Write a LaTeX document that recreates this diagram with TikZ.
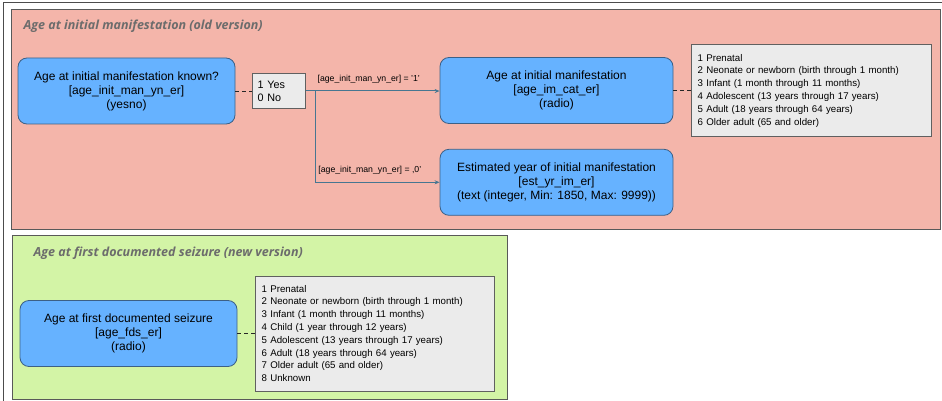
\documentclass[tikz,border=0pt]{standalone}
\usepackage{fontspec}
\setmainfont{Liberation Sans}
\newfontfamily\headfont{Open Sans}
\usepackage{tikz}
\usetikzlibrary{positioning,arrows.meta}
\usepackage{xcolor}
\definecolor{OldRed}{RGB}{244,181,170}
\definecolor{NewGreen}{RGB}{211,244,166}
\definecolor{FieldBlue}{RGB}{102,178,255}
\definecolor{FieldEdge}{RGB}{60,96,134}
\definecolor{ChoiceGray}{RGB}{235,235,235}
\definecolor{LinkTeal}{RGB}{70,118,145}
\definecolor{TitleGray}{RGB}{108,108,108}

\begin{document}
\begin{tikzpicture}[x=1pt, y=-1pt,
    field/.style={rectangle, draw=FieldEdge, fill=FieldBlue, rounded corners=9pt,
                  line width=0.8pt, minimum width=217pt, minimum height=66pt,
                  align=center, font=\fontsize{12}{14}\selectfont},
    choices/.style={rectangle, draw=gray!75!black, fill=ChoiceGray, line width=0.6pt,
                    text width=228pt, inner xsep=6pt, minimum height=92pt,
                    align=left, font=\fontsize{9.7}{12.8}\selectfont},
    group/.style={draw=gray!70!black, line width=0.8pt},
    headline/.style={anchor=west, text=TitleGray, font=\headfont\bfseries\itshape\fontsize{12.5}{14}\selectfont},
    cond/.style={font=\fontsize{8.7}{9}\selectfont, inner sep=1pt},
    link/.style={draw=LinkTeal, line width=1pt, -{Stealth[length=5pt,width=4pt]}},
    choiceline/.style={draw=gray!30!black, line width=0.9pt, dash pattern=on 4pt off 3pt},
]
    \useasboundingbox (0,0) rectangle (942,401);
    \draw[gray!60!black, line width=1pt] (3,401) -- (3,3) -- (942,3);

    % old version
    \draw[group, fill=OldRed] (11,9) rectangle (940,229);
    \node[headline] (oldtitle) at (20,26) {Age at initial manifestation (old version)};
    \node[field] (yn) at (126.5,91) {Age at initial manifestation known?\\ {[age\_init\_man\_yn\_er]}\\ (yesno)};
    \node[choices, right=17pt of yn, text width=43pt, inner xsep=5pt, minimum height=35pt,
          font=\fontsize{10.8}{13}\selectfont] (yesno) {1 Yes\\ 0 No};
    \node[field, minimum width=233pt] (cat) at (556.5,90.5) {Age at initial manifestation\\ {[age\_im\_cat\_er]}\\ (radio)};
    \node[choices, right=18pt of cat] (catopts) {1 Prenatal\\ 2 Neonate or newborn (birth through 1 month)\\ 3 Infant (1 month through 11 months)\\ 4 Adolescent (13 years through 17 years)\\ 5 Adult (18 years through 64 years)\\ 6 Older adult (65 and older)};
    \node[field, minimum width=233pt, below=25pt of cat] (est) {Estimated year of initial manifestation\\ {[est\_yr\_im\_er]}\\ (text (integer, Min: 1850, Max: 9999))};

    \coordinate[right=9pt of yesno.east] (split);
    \draw[choiceline] (yn) -- (yesno);
    \draw[choiceline] (cat) -- (catopts);
    \draw[link] (yesno.east) -- node[cond, above=6pt, pos=0.47] {[age\_init\_man\_yn\_er] = '1'} (yesno.east -| cat.west);
    \draw[link] (split) |- node[cond, above=6pt, pos=0.72] {[age\_init\_man\_yn\_er] = ,0'} (est.west);

    % new version
    \draw[group, fill=NewGreen] (12,235) rectangle (507,399);
    \node[headline] (newtitle) at (30,253) {Age at first documented seizure (new version)};
    \node[field] (fds) at (128.5,333.5) {Age at first documented seizure\\ {[age\_fds\_er]}\\ (radio)};
    \node[choices, right=18pt of fds, text width=227pt, minimum height=115pt] (fdsopts) {1 Prenatal\\ 2 Neonate or newborn (birth through 1 month)\\ 3 Infant (1 month through 11 months)\\ 4 Child (1 year through 12 years)\\ 5 Adolescent (13 years through 17 years)\\ 6 Adult (18 years through 64 years)\\ 7 Older adult (65 and older)\\ 8 Unknown};
    \draw[choiceline] (fds) -- (fdsopts);
\end{tikzpicture}
\end{document}
